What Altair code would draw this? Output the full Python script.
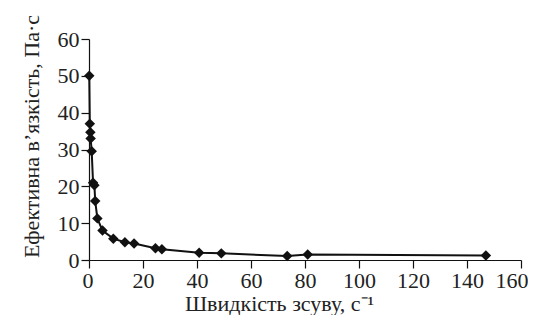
import altair as alt
import pandas as pd

shear_rate = [0.1, 0.3, 0.5, 0.6, 1.0, 1.5, 2.0, 2.3, 3.1, 5.0, 9.0, 13.3, 16.7, 24.6, 27.0, 40.8, 49.0, 73.4, 81.0, 147.0]
viscosity = [50.0, 37.0, 34.7, 33.0, 29.5, 21.0, 20.3, 16.0, 11.3, 8.0, 5.8, 4.8, 4.5, 3.2, 2.9, 2.0, 1.8, 1.1, 1.5, 1.2]

df = pd.DataFrame({"x": shear_rate, "y": viscosity})

FONT = "Liberation Serif"

axis_style = dict(grid=False, labelFont=FONT, titleFont=FONT,
                  labelFontSize=22, titleFontSize=22, labelColor="#222", titleColor="#222",
                  titleFontWeight="normal", domainColor="#111", tickColor="#111",
                  tickSize=8, domainWidth=1.2, tickWidth=1.2, labelPadding=2)

x = alt.X("x:Q", scale=alt.Scale(domain=[0, 160], nice=False),
          axis=alt.Axis(title="Швидкість зсуву, с⁻¹", values=list(range(0, 161, 20)),
                        labelFlush=True, labelFlushOffset=7,
                        titleX=190, titleY=50, titleAlign="center",
                        titleBaseline="alphabetic", **axis_style))
y = alt.Y("y:Q", scale=alt.Scale(domain=[0, 60], nice=False),
          axis=alt.Axis(title="Ефективна в’язкість, Па·с", values=list(range(0, 61, 10)),
                        labelFlush=False,
                        titleX=-51, titleY=97, titleAlign="center",
                        titleBaseline="alphabetic", **axis_style))

base = alt.Chart(df).encode(x=x, y=y)
line = base.mark_line(color="#111", strokeWidth=2)
pts = base.mark_point(shape="diamond", filled=True, color="#111", size=110, opacity=1)

chart = (line + pts).properties(
    width=432, height=221,
    autosize=alt.AutoSizeParams(type="none"),
    padding={"left": 81, "top": 31, "right": 7, "bottom": 55},
).configure(
    font=FONT,
    style={"guide-label": {"font": FONT, "fontSize": 22},
           "guide-title": {"font": FONT, "fontSize": 22}},
).configure_view(stroke=None).configure_axis(
    labelFont=FONT, titleFont=FONT, labelFontSize=22, titleFontSize=22,
)

chart.save("out.html", embed_options={"renderer": "svg", "actions": False})
